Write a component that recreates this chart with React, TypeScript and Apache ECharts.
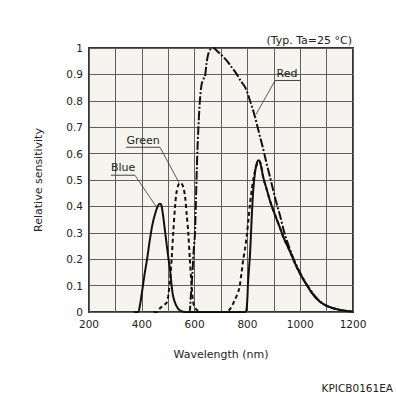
import React, { useEffect, useRef } from 'react';
import * as echarts from 'echarts';

// Axis ranges
const X_MIN = 200;
const X_MAX = 1200;
const X_GRID_STEP = 100;
const X_LABEL_STEP = 200;
const Y_MIN = 0;
const Y_MAX = 1;
const Y_STEP = 0.1;

// Spectral response curves: [wavelength nm, relative sensitivity]
const blueData: number[][] = [
  [370, 0], [385, 0], [392, 0.02], [400, 0.07], [410, 0.14], [420, 0.2], [430, 0.27], [440, 0.33],
  [450, 0.37], [460, 0.4], [468, 0.41], [474, 0.405], [480, 0.37], [490, 0.29], [500, 0.21],
  [507, 0.16], [513, 0.1], [519, 0.058], [528, 0.03], [538, 0.012], [550, 0.003], [565, 0],
  [790, 0], [797, 0.01], [803, 0.12], [810, 0.22], [816, 0.35], [822, 0.46], [829, 0.53],
  [836, 0.565], [843, 0.575], [850, 0.56], [860, 0.51], [873, 0.465], [886, 0.42], [900, 0.38],
  [923, 0.32], [940, 0.275], [961, 0.23], [980, 0.185], [999, 0.146], [1020, 0.11], [1037, 0.083],
  [1055, 0.058], [1075, 0.039], [1100, 0.023], [1125, 0.014], [1150, 0.008], [1175, 0.004], [1200, 0.002],
];

const greenData: number[][] = [
  [445, 0], [458, 0], [469, 0.014], [482, 0.025], [494, 0.035], [500, 0.06], [507, 0.12], [513, 0.2],
  [519, 0.3], [526, 0.4], [531, 0.45], [538, 0.48], [545, 0.49], [552, 0.485], [558, 0.47],
  [564, 0.436], [570, 0.37], [576, 0.3], [582, 0.2], [589, 0.096], [595, 0.035], [602, 0.015],
  [612, 0.005], [625, 0], [720, 0], [737, 0.015], [752, 0.045], [768, 0.085], [778, 0.15],
  [784, 0.197], [791, 0.24], [797, 0.285], [804, 0.35], [810, 0.41], [816, 0.46], [822, 0.5],
  [830, 0.54], [838, 0.565], [845, 0.572], [852, 0.555], [860, 0.51], [873, 0.465], [886, 0.42],
  [900, 0.38], [923, 0.32], [940, 0.275], [961, 0.23], [980, 0.185], [999, 0.146], [1020, 0.11],
  [1037, 0.083], [1055, 0.058], [1075, 0.039], [1100, 0.023], [1125, 0.014], [1150, 0.008],
  [1175, 0.004], [1200, 0.002],
];

const redData: number[][] = [
  [570, 0], [580, 0], [585, 0.05], [592, 0.15], [597, 0.24], [601, 0.29], [605, 0.42], [608, 0.53],
  [611, 0.62], [614, 0.69], [620, 0.8], [627, 0.865], [635, 0.885], [639, 0.89], [645, 0.94],
  [652, 0.978], [660, 0.995], [671, 1.0], [684, 0.99], [700, 0.975], [721, 0.953], [740, 0.928],
  [759, 0.902], [775, 0.875], [791, 0.852], [800, 0.83], [810, 0.8], [820, 0.77], [829, 0.738],
  [840, 0.695], [848, 0.663], [858, 0.625], [867, 0.587], [877, 0.545], [886, 0.51], [898, 0.46],
  [911, 0.41], [925, 0.36], [940, 0.3], [960, 0.24], [980, 0.19], [1000, 0.148], [1020, 0.112],
  [1040, 0.082], [1060, 0.055], [1080, 0.036], [1100, 0.024], [1125, 0.014], [1150, 0.008],
  [1175, 0.004], [1200, 0.002],
];

// Curve annotations (data coordinates)
const annoNames = ['Red', 'Green', 'Blue'];
const annoTextAt: number[][] = [[950, 0.905], [405, 0.65], [329, 0.548]];
const annoUnderline: number[][][] = [
  [[905, 0.877], [1003, 0.877]],
  [[340, 0.624], [469, 0.624]],
  [[283, 0.518], [374, 0.518]],
];
const annoLeader: number[][][] = [
  [[905, 0.877], [833, 0.749]],
  [[469, 0.624], [541, 0.49]],
  [[374, 0.518], [454, 0.4]],
];

const FONT = 'DejaVu Sans';

export default function App() {
  const ref = useRef<HTMLDivElement>(null);

  useEffect(() => {
    if (!ref.current) return;
    const chart = echarts.init(ref.current, undefined, { renderer: 'svg' });
    const line = (name: string, data: number[][], type: any) => ({
      name,
      type: 'line',
      data,
      showSymbol: false,
      symbol: 'none',
      smooth: 0.3,
      z: 5,
      lineStyle: { color: '#111', width: 2, type },
    });
    chart.setOption({
      animation: false,
      grid: {
        left: 89, top: 48, right: 43, bottom: 84,
        show: true, backgroundColor: '#f5f4ee', borderColor: '#333', borderWidth: 2,
      },
      xAxis: {
        type: 'value', min: X_MIN, max: X_MAX, interval: X_GRID_STEP,
        name: 'Wavelength (nm)', nameLocation: 'middle', nameGap: 37,
        nameTextStyle: { fontFamily: FONT, fontSize: 11, color: '#222' },
        axisLine: { show: false }, axisTick: { show: false },
        axisLabel: {
          margin: 6, fontFamily: FONT, fontSize: 10.5, color: '#222',
          formatter: (v: number) => (v % X_LABEL_STEP === 0 ? String(v) : ''),
        },
        splitLine: { show: true, lineStyle: { color: '#5f5f5f', width: 1 } },
      },
      yAxis: {
        type: 'value', min: Y_MIN, max: Y_MAX, interval: Y_STEP,
        name: 'Relative sensitivity', nameLocation: 'middle', nameGap: 45, nameRotate: 90,
        nameTextStyle: { fontFamily: FONT, fontSize: 11, color: '#222' },
        axisLine: { show: false }, axisTick: { show: false },
        axisLabel: {
          margin: 6, fontFamily: FONT, fontSize: 10.5, color: '#222',
          formatter: (v: number) => String(Math.round(v * 10) / 10),
        },
        splitLine: { show: true, lineStyle: { color: '#5f5f5f', width: 1 } },
      },
      series: [
        line('Blue', blueData, 'solid'),
        line('Green', greenData, [4, 3]),
        line('Red', redData, [9, 2, 2, 2]),
      ],
    });

    const px = (p: number[]) => chart.convertToPixel({ gridIndex: 0 }, p) as number[];
    const elements: any[] = [];
    annoNames.forEach((name, i) => {
      const t = px(annoTextAt[i]);
      elements.push({
        type: 'text', x: t[0], y: t[1], z: 10,
        style: { text: name, fontFamily: FONT, fontSize: 11, fill: '#222', align: 'center', verticalAlign: 'middle' },
      });
      const u0 = px(annoUnderline[i][0]);
      const u1 = px(annoUnderline[i][1]);
      elements.push({
        type: 'line', z: 10,
        shape: { x1: u0[0], y1: u0[1], x2: u1[0], y2: u1[1] },
        style: { stroke: '#444', lineWidth: 1 },
      });
      const l0 = px(annoLeader[i][0]);
      const l1 = px(annoLeader[i][1]);
      elements.push({
        type: 'line', z: 10,
        shape: { x1: l0[0], y1: l0[1], x2: l1[0], y2: l1[1] },
        style: { stroke: '#333', lineWidth: 0.8 },
      });
    });
    elements.push({
      type: 'text', x: 352, y: 40, z: 10,
      style: { text: '(Typ. Ta=25 °C)', fontFamily: FONT, fontSize: 11, fill: '#222', align: 'right', verticalAlign: 'middle' },
    });
    elements.push({
      type: 'text', x: 393, y: 388, z: 10,
      style: { text: 'KPICB0161EA', fontFamily: FONT, fontSize: 10.5, fill: '#222', align: 'right', verticalAlign: 'middle' },
    });
    chart.setOption({ graphic: { elements } });

    return () => chart.dispose();
  }, []);

  return (
    <div
      ref={ref}
      style={{ position: 'fixed', left: 0, top: 0, width: 396, height: 396, background: '#fff' }}
    />
  );
}
